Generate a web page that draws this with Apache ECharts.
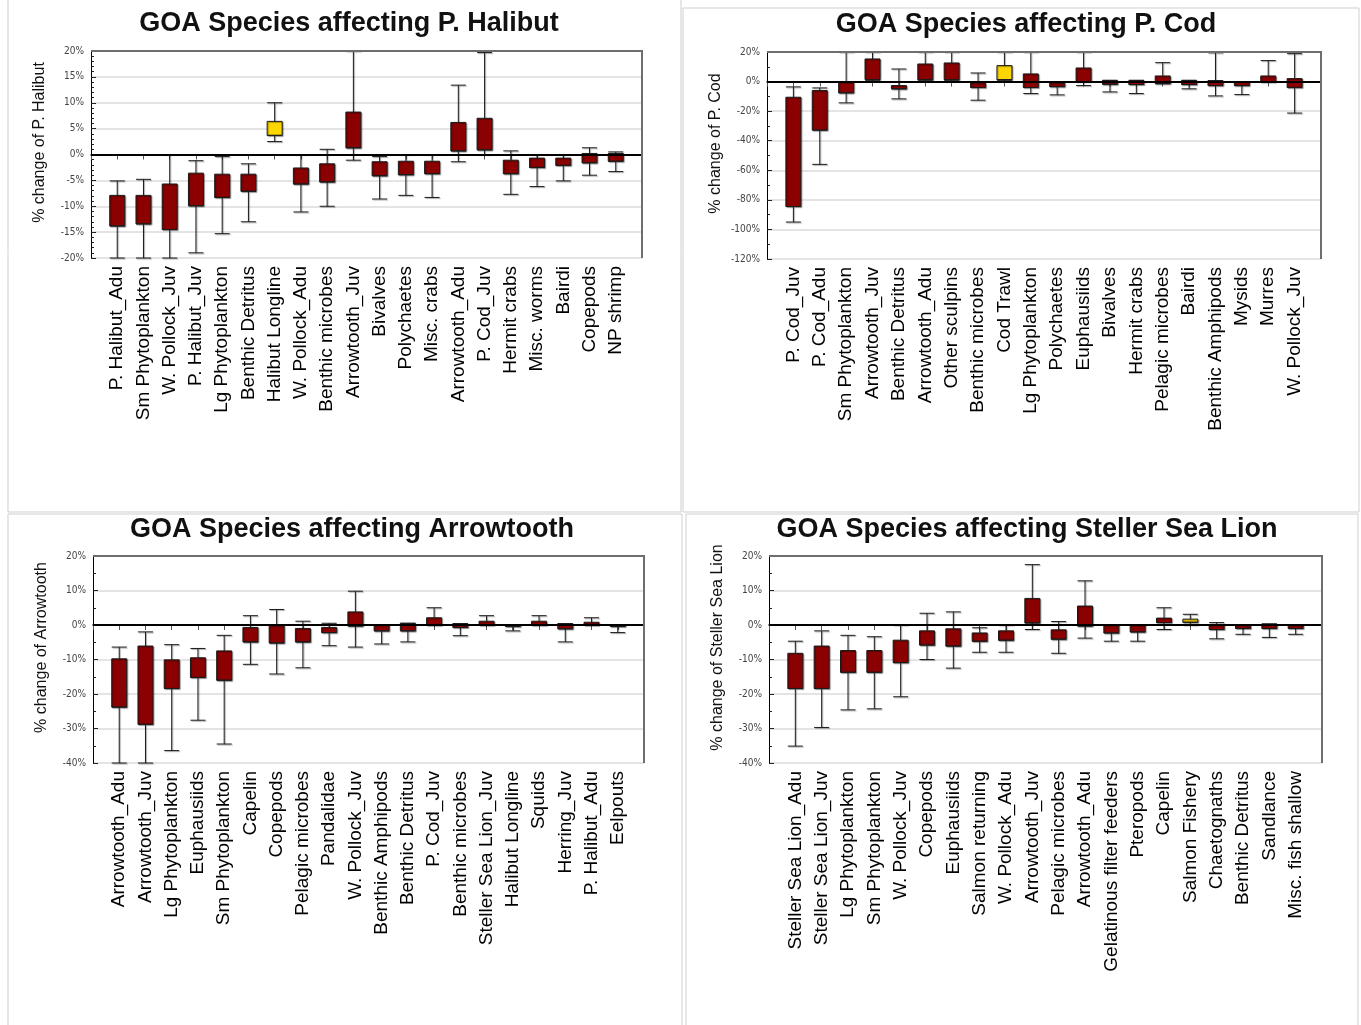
<!DOCTYPE html>
<html>
<head>
<meta charset="utf-8">
<script src="https://cdn.jsdelivr.net/npm/echarts@6/dist/echarts.min.js"></script>
<style>
html,body{margin:0;padding:0;background:#fff;}
#chart{width:1361px;height:1025px;}
</style>
</head>
<body>
<div id="chart"></div>
<script>
// ---------- DATA ----------
const fleets = ['Halibut Longline', 'Cod Trawl', 'Salmon Fishery'];

// Panel 1: P. Halibut
const title1 = 'GOA Species affecting P. Halibut';
const yName1 = '% change of P. Halibut';
const cats1 = ['P. Halibut_Adu','Sm Phytoplankton','W. Pollock_Juv','P. Halibut_Juv','Lg Phytoplankton','Benthic Detritus','Halibut Longline','W. Pollock_Adu','Benthic microbes','Arrowtooth_Juv','Bivalves','Polychaetes','Misc. crabs','Arrowtooth_Adu','P. Cod_Juv','Hermit crabs','Misc. worms','Bairdi','Copepods','NP shrimp'];
const hi1  = [-5.1,-4.8,0,-1.2,-0.4,-1.8,10.0,0,1.0,20,-0.4,0,0,13.4,19.7,0.7,0,0,1.3,0.5];
const top1 = [-7.9,-7.9,-5.7,-3.6,-3.8,-3.8,6.4,-2.6,-1.8,8.2,-1.4,-1.3,-1.3,6.2,7.0,-1.1,-0.7,-0.7,0.2,0.2];
const bot1 = [-13.8,-13.4,-14.5,-9.9,-8.3,-7.1,3.7,-5.7,-5.3,1.3,-4.1,-3.9,-3.7,0.7,0.9,-3.7,-2.5,-2.1,-1.6,-1.3];
const lo1  = [-20,-20,-20,-19.0,-15.3,-13.0,2.5,-11.1,-10.0,-1.1,-8.6,-7.9,-8.3,-1.4,0,-7.7,-6.2,-5.1,-4.0,-3.3];

// Panel 2: P. Cod
const title2 = 'GOA Species affecting P. Cod';
const yName2 = '% change of P. Cod';
const cats2 = ['P. Cod_Juv','P. Cod_Adu','Sm Phytoplankton','Arrowtooth_Juv','Benthic Detritus','Arrowtooth_Adu','Other sculpins','Benthic microbes','Cod Trawl','Lg Phytoplankton','Polychaetes','Euphausiids','Bivalves','Hermit crabs','Pelagic microbes','Bairdi','Benthic Amphipods','Mysids','Murres','W. Pollock_Juv'];
const hi2  = [-3.6,-4.3,20,20,8.5,20,20,5.8,20,20,0,20,0.9,0.9,12.8,0.9,19.5,0,14.2,18.9];
const top2 = [-10.6,-6.1,-0.5,15.3,-2.7,11.9,12.6,-0.9,10.8,5.2,-0.9,9.2,0.7,0.7,3.8,0.7,0.7,0,3.8,2.0];
const bot2 = [-84.5,-32.8,-7.6,1.3,-4.9,1.3,1.3,-4.0,1.3,-4.0,-3.4,0,-1.8,-2.0,-1.3,-2.0,-2.7,-2.7,0,-4.0];
const lo2  = [-95,-56,-14.4,0.5,-11.7,0.5,0.5,-12.6,0.5,-8.1,-9.0,-2.7,-7.0,-8.1,-1.5,-4.9,-9.7,-8.8,-0.3,-21.3];

// Panel 3: Arrowtooth
const title3 = 'GOA Species affecting Arrowtooth';
const yName3 = '% change of Arrowtooth';
const cats3 = ['Arrowtooth_Adu','Arrowtooth_Juv','Lg Phytoplankton','Euphausiids','Sm Phytoplankton','Capelin','Copepods','Pelagic microbes','Pandalidae','W. Pollock_Juv','Benthic Amphipods','Benthic Detritus','P. Cod_Juv','Benthic microbes','Steller Sea Lion_Juv','Halibut Longline','Squids','Herring_Juv','P. Halibut_Adu','Eelpouts'];
const hi3  = [-6.4,-2.0,-5.7,-6.8,-3.0,2.7,4.5,1.1,0.5,9.8,0,0.5,5.0,0.4,2.7,0,2.7,0.4,2.1,0];
const top3 = [-9.8,-6.1,-10.1,-9.5,-7.5,-0.7,-0.2,-1.0,-0.7,3.8,0,0.5,2.1,0.4,1.1,0,1.1,0.4,0.8,0];
const bot3 = [-23.8,-28.8,-18.4,-15.2,-16.0,-4.9,-5.2,-4.9,-2.2,-0.3,-1.7,-1.7,0,-0.7,0,-0.4,0,-1.1,0,-0.4];
const lo3  = [-40,-40,-36.4,-27.6,-34.5,-11.4,-14.2,-12.4,-6.0,-6.4,-5.5,-4.9,0,-3.1,0,-1.7,0,-4.9,0,-2.2];

// Panel 4: Steller Sea Lion
const title4 = 'GOA Species affecting Steller Sea Lion';
const yName4 = '% change of Steller Sea Lion';
const cats4 = ['Steller Sea Lion_Adu','Steller Sea Lion_Juv','Lg Phytoplankton','Sm Phytoplankton','W. Pollock_Juv','Copepods','Euphausiids','Salmon returning','W. Pollock_Adu','Arrowtooth_Juv','Pelagic microbes','Arrowtooth_Adu','Gelatinous filter feeders','Pteropods','Capelin','Salmon Fishery','Chaetognaths','Benthic Detritus','Sandlance','Misc. fish shallow'];
const hi4  = [-4.7,-1.7,-3.0,-3.4,0,3.4,3.8,-0.8,0,17.5,1.0,12.8,0,0,5.0,3.1,0.7,0,0.3,0];
const top4 = [-8.2,-6.1,-7.4,-7.4,-4.4,-1.7,-1.1,-2.3,-1.7,7.7,-1.4,5.5,0,0,2.0,1.7,0,0,0.3,0];
const bot4 = [-18.4,-18.4,-13.7,-13.7,-10.9,-5.8,-6.1,-4.7,-4.4,0.6,-4.1,-0.3,-2.3,-2.0,0.7,0.8,-1.3,-1.0,-1.0,-1.0];
const lo4  = [-35.1,-29.7,-24.6,-24.3,-20.8,-10.0,-12.5,-7.9,-7.9,-1.3,-8.2,-3.8,-4.7,-4.7,-1.3,0,-4.0,-2.7,-3.6,-2.7];

// y-axis scales
const yMin = [-20, -120, -40, -40];
const yMax = [20, 20, 20, 20];
const yInt = [5, 20, 10, 10];
const yMinorSplit = [5, 2, 2, 2];

// ---------- LAYOUT ----------
const FONT = 'Liberation Sans, Arial, sans-serif';
const RED = '#8B0000';
const YELLOW = '#FFD700';
const panels = [
  {title: title1, yName: yName1, cats: cats1, lo: lo1, bot: bot1, top: top1, hi: hi1,
   grid: {left: 91, top: 51, width: 551, height: 207}, tx: 344, ty: 5},
  {title: title2, yName: yName2, cats: cats2, lo: lo2, bot: bot2, top: top2, hi: hi2,
   grid: {left: 767, top: 52, width: 554, height: 207}, tx: 1021, ty: 6},
  {title: title3, yName: yName3, cats: cats3, lo: lo3, bot: bot3, top: top3, hi: hi3,
   grid: {left: 93, top: 556, width: 551, height: 207}, tx: 347, ty: 511},
  {title: title4, yName: yName4, cats: cats4, lo: lo4, bot: bot4, top: top4, hi: hi4,
   grid: {left: 769, top: 556, width: 553, height: 207}, tx: 1022, ty: 511}
];

const option = {
  animation: false,
  backgroundColor: '#fff',
  title: [], grid: [], xAxis: [], yAxis: [], series: [],
  graphic: [
    {type: 'rect', shape: {x: 8, y: -2, width: 673, height: 514}, style: {fill: 'none', stroke: '#cfcfcf', lineWidth: 1}, silent: true},
    {type: 'rect', shape: {x: 683, y: 8, width: 676, height: 504}, style: {fill: 'none', stroke: '#cfcfcf', lineWidth: 1}, silent: true},
    {type: 'rect', shape: {x: 8, y: 514, width: 674, height: 520}, style: {fill: 'none', stroke: '#cfcfcf', lineWidth: 1}, silent: true},
    {type: 'rect', shape: {x: 686, y: 514, width: 672, height: 520}, style: {fill: 'none', stroke: '#cfcfcf', lineWidth: 1}, silent: true}
  ]
};

panels.forEach((p, i) => {
  option.title.push({
    text: p.title, left: p.tx, top: p.ty, textAlign: 'center',
    textStyle: {fontFamily: FONT, fontSize: 27, fontWeight: 'bold', color: '#111'}
  });
  option.grid.push(Object.assign({show: false}, p.grid));
  // plot frame (top and right edges)
  const g = p.grid;
  option.graphic.push({
    type: 'polyline', silent: true, z: 50,
    shape: {points: [[g.left, g.top], [g.left + g.width, g.top], [g.left + g.width, g.top + g.height]]},
    style: {fill: 'none', stroke: '#6e6e6e', lineWidth: 2}
  });
  option.xAxis.push({
    type: 'category', gridIndex: i, boundaryGap: false,
    data: [' '].concat(p.cats, ['  ']),
    axisLine: {lineStyle: {color: '#000', width: 1.5}},
    axisTick: {show: true, length: 5, lineStyle: {color: '#555'}},
    axisLabel: {rotate: 90, interval: 0, fontFamily: FONT, fontSize: 19, color: '#000', margin: 8},
    splitLine: {show: false}
  });
  option.yAxis.push({
    type: 'value', gridIndex: i, min: yMin[i], max: yMax[i], interval: yInt[i],
    name: p.yName, nameLocation: 'middle', nameGap: 43,
    nameTextStyle: {fontFamily: FONT, fontSize: 16, color: '#111', padding: [0, 0, 0, 24]},
    axisLine: {show: true, lineStyle: {color: '#000', width: 1}},
    axisTick: {show: true, inside: true, length: 5, lineStyle: {color: '#222'}},
    minorTick: {show: true, splitNumber: yMinorSplit[i], length: 3, lineStyle: {color: '#222'}},
    axisLabel: {formatter: '{value}%', fontFamily: 'DejaVu Sans Condensed, ' + FONT, fontSize: 10, color: '#444', margin: 7},
    splitLine: {show: true, lineStyle: {color: '#e4e4e4', width: 2}}
  });
  const data = [{value: ['-', '-', '-', '-', '-']}];
  p.cats.forEach((c, k) => {
    data.push({
      value: [p.lo[k], p.bot[k], p.bot[k], p.top[k], p.hi[k]],
      itemStyle: {color: fleets.indexOf(c) >= 0 ? YELLOW : RED}
    });
  });
  data.push({value: ['-', '-', '-', '-', '-']});
  option.series.push({
    type: 'boxplot', xAxisIndex: i, yAxisIndex: i,
    boxWidth: [15, 15],
    itemStyle: {color: RED, borderColor: '#1a1a1a', borderWidth: 1,
      shadowColor: 'rgba(0,0,0,0.35)', shadowOffsetX: 1, shadowOffsetY: 1, shadowBlur: 1},
    emphasis: {disabled: true},
    data: data,
    markLine: {
      silent: true, symbol: ['none', 'none'], label: {show: false},
      lineStyle: {color: '#000', width: 2, type: 'solid'},
      data: [{yAxis: 0}]
    }
  });
});

const chart = echarts.init(document.getElementById('chart'), null, {renderer: 'canvas'});
chart.setOption(option);
</script>
</body>
</html>
